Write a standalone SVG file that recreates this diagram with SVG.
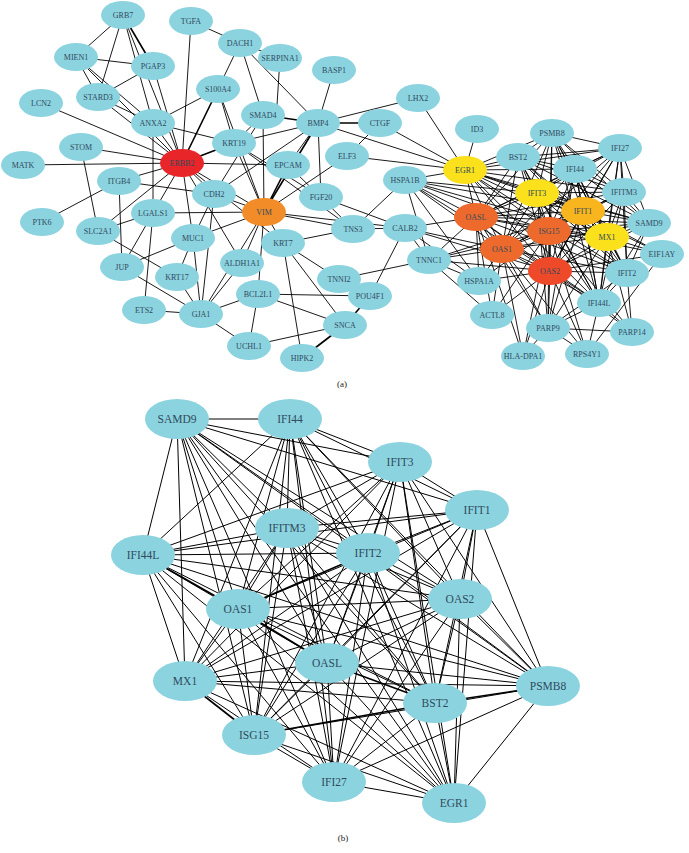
<svg xmlns="http://www.w3.org/2000/svg" width="689" height="853" viewBox="0 0 689 853">
<style>
.bg{fill:#ffffff}
.ea line{stroke:#000;stroke-width:0.9}
.eb line{stroke:#000;stroke-width:1}
.ea line.t,.eb line.t{stroke-width:1.6}
.n ellipse{fill:#8CD3E0}
.red ellipse{fill:#E8262A}
.ora ellipse{fill:#F28C28}
.ore ellipse{fill:#EE6A2C}
.orr ellipse{fill:#EE4A2A}
.yel ellipse{fill:#FBE01C}
.yor ellipse{fill:#F9B51E}
text{font-family:"Liberation Serif","Times New Roman",serif;fill:#2F4B5C;text-anchor:middle;dominant-baseline:central}
.a text{font-size:8px}
.b text{font-size:11.5px}
.cap{font-size:9px;fill:#222}
</style>
<rect class="bg" x="0" y="0" width="689" height="853"/>
<g id="connectors-a" class="ea">
<line x1="123" y1="15" x2="76" y2="57"/>
<line x1="123" y1="15" x2="98" y2="97"/>
<line x1="123" y1="15" x2="153" y2="66" class="t"/>
<line x1="123" y1="15" x2="182" y2="163"/>
<line x1="123" y1="15" x2="153" y2="123"/>
<line x1="76" y1="57" x2="153" y2="66"/>
<line x1="76" y1="57" x2="98" y2="97"/>
<line x1="76" y1="57" x2="153" y2="123"/>
<line x1="76" y1="57" x2="182" y2="163"/>
<line x1="98" y1="97" x2="153" y2="66"/>
<line x1="98" y1="97" x2="182" y2="163"/>
<line x1="98" y1="97" x2="153" y2="123"/>
<line x1="153" y1="66" x2="182" y2="163"/>
<line x1="191" y1="21" x2="240" y2="43"/>
<line x1="191" y1="21" x2="182" y2="163"/>
<line x1="240" y1="43" x2="218" y2="89"/>
<line x1="240" y1="43" x2="263" y2="115"/>
<line x1="240" y1="43" x2="318" y2="123"/>
<line x1="240" y1="43" x2="280" y2="58"/>
<line x1="280" y1="58" x2="277" y2="105"/>
<line x1="334" y1="70" x2="318" y2="123"/>
<line x1="418" y1="98" x2="318" y2="123"/>
<line x1="418" y1="98" x2="465" y2="170"/>
<line x1="318" y1="123" x2="380" y2="123" class="t"/>
<line x1="380" y1="123" x2="465" y2="170"/>
<line x1="380" y1="123" x2="347" y2="156"/>
<line x1="318" y1="123" x2="465" y2="170"/>
<line x1="318" y1="123" x2="263" y2="115" class="t"/>
<line x1="318" y1="123" x2="234" y2="143"/>
<line x1="318" y1="123" x2="264" y2="212" class="t"/>
<line x1="318" y1="123" x2="288" y2="165"/>
<line x1="318" y1="123" x2="321" y2="197"/>
<line x1="318" y1="123" x2="214" y2="194"/>
<line x1="263" y1="115" x2="234" y2="143"/>
<line x1="263" y1="115" x2="264" y2="212"/>
<line x1="263" y1="115" x2="214" y2="194"/>
<line x1="218" y1="89" x2="153" y2="123"/>
<line x1="218" y1="89" x2="182" y2="163" class="t"/>
<line x1="218" y1="89" x2="234" y2="143"/>
<line x1="218" y1="89" x2="264" y2="212"/>
<line x1="153" y1="123" x2="234" y2="143"/>
<line x1="153" y1="123" x2="182" y2="163"/>
<line x1="153" y1="123" x2="153" y2="213"/>
<line x1="41" y1="103" x2="182" y2="163"/>
<line x1="81" y1="147" x2="182" y2="163"/>
<line x1="81" y1="147" x2="98" y2="231"/>
<line x1="23" y1="165" x2="182" y2="163"/>
<line x1="119" y1="181" x2="182" y2="163"/>
<line x1="119" y1="181" x2="42" y2="222"/>
<line x1="119" y1="181" x2="122" y2="267"/>
<line x1="119" y1="181" x2="214" y2="194"/>
<line x1="153" y1="213" x2="98" y2="231"/>
<line x1="153" y1="213" x2="182" y2="163"/>
<line x1="153" y1="213" x2="122" y2="267"/>
<line x1="153" y1="213" x2="264" y2="212"/>
<line x1="153" y1="213" x2="144" y2="310"/>
<line x1="98" y1="231" x2="182" y2="163"/>
<line x1="98" y1="231" x2="177" y2="277"/>
<line x1="193" y1="238" x2="182" y2="163"/>
<line x1="193" y1="238" x2="122" y2="267"/>
<line x1="193" y1="238" x2="264" y2="212"/>
<line x1="193" y1="238" x2="177" y2="277"/>
<line x1="193" y1="238" x2="201" y2="314"/>
<line x1="214" y1="194" x2="182" y2="163"/>
<line x1="214" y1="194" x2="264" y2="212"/>
<line x1="214" y1="194" x2="193" y2="238"/>
<line x1="214" y1="194" x2="201" y2="314"/>
<line x1="234" y1="143" x2="182" y2="163" class="t"/>
<line x1="234" y1="143" x2="264" y2="212"/>
<line x1="234" y1="143" x2="321" y2="197"/>
<line x1="234" y1="143" x2="353" y2="229"/>
<line x1="288" y1="165" x2="182" y2="163"/>
<line x1="288" y1="165" x2="264" y2="212" class="t"/>
<line x1="347" y1="156" x2="465" y2="170"/>
<line x1="347" y1="156" x2="264" y2="212"/>
<line x1="321" y1="197" x2="405" y2="228"/>
<line x1="264" y1="212" x2="353" y2="229"/>
<line x1="264" y1="212" x2="405" y2="228"/>
<line x1="264" y1="212" x2="283" y2="243"/>
<line x1="264" y1="212" x2="242" y2="263"/>
<line x1="264" y1="212" x2="182" y2="163"/>
<line x1="264" y1="212" x2="201" y2="314"/>
<line x1="264" y1="212" x2="258" y2="294"/>
<line x1="283" y1="243" x2="339" y2="279"/>
<line x1="283" y1="243" x2="353" y2="229"/>
<line x1="283" y1="243" x2="345" y2="325"/>
<line x1="283" y1="243" x2="302" y2="358"/>
<line x1="283" y1="243" x2="182" y2="163"/>
<line x1="242" y1="263" x2="182" y2="163"/>
<line x1="242" y1="263" x2="201" y2="314"/>
<line x1="353" y1="229" x2="405" y2="228"/>
<line x1="353" y1="229" x2="405" y2="180"/>
<line x1="353" y1="229" x2="288" y2="165"/>
<line x1="405" y1="180" x2="429" y2="260"/>
<line x1="405" y1="228" x2="429" y2="260"/>
<line x1="405" y1="228" x2="370" y2="296"/>
<line x1="405" y1="228" x2="476" y2="217"/>
<line x1="405" y1="228" x2="502" y2="249"/>
<line x1="405" y1="228" x2="550" y2="271"/>
<line x1="405" y1="180" x2="476" y2="217"/>
<line x1="405" y1="180" x2="502" y2="249"/>
<line x1="405" y1="180" x2="549" y2="231"/>
<line x1="405" y1="180" x2="550" y2="271"/>
<line x1="405" y1="180" x2="537" y2="193"/>
<line x1="405" y1="180" x2="607" y2="237"/>
<line x1="405" y1="180" x2="583" y2="211"/>
<line x1="405" y1="180" x2="465" y2="170"/>
<line x1="405" y1="180" x2="479" y2="281"/>
<line x1="339" y1="279" x2="429" y2="260"/>
<line x1="429" y1="260" x2="502" y2="249"/>
<line x1="429" y1="260" x2="476" y2="217"/>
<line x1="429" y1="260" x2="550" y2="271"/>
<line x1="429" y1="260" x2="479" y2="281"/>
<line x1="429" y1="260" x2="492" y2="315"/>
<line x1="429" y1="260" x2="549" y2="231"/>
<line x1="429" y1="260" x2="583" y2="211"/>
<line x1="370" y1="296" x2="345" y2="325" class="t"/>
<line x1="345" y1="325" x2="302" y2="358" class="t"/>
<line x1="345" y1="325" x2="258" y2="294"/>
<line x1="258" y1="294" x2="201" y2="314"/>
<line x1="258" y1="294" x2="249" y2="346"/>
<line x1="258" y1="294" x2="370" y2="296"/>
<line x1="249" y1="346" x2="201" y2="314"/>
<line x1="249" y1="346" x2="345" y2="325"/>
<line x1="144" y1="310" x2="201" y2="314"/>
<line x1="122" y1="267" x2="201" y2="314"/>
<line x1="177" y1="277" x2="201" y2="314"/>
<line x1="477" y1="129" x2="465" y2="170"/>
<line x1="465" y1="170" x2="518" y2="157"/>
<line x1="465" y1="170" x2="552" y2="133"/>
<line x1="465" y1="170" x2="620" y2="148"/>
<line x1="465" y1="170" x2="575" y2="169"/>
<line x1="465" y1="170" x2="537" y2="193"/>
<line x1="465" y1="170" x2="624" y2="192"/>
<line x1="465" y1="170" x2="583" y2="211"/>
<line x1="465" y1="170" x2="649" y2="223"/>
<line x1="465" y1="170" x2="607" y2="237"/>
<line x1="465" y1="170" x2="549" y2="231"/>
<line x1="465" y1="170" x2="476" y2="217"/>
<line x1="465" y1="170" x2="502" y2="249"/>
<line x1="465" y1="170" x2="550" y2="271"/>
<line x1="465" y1="170" x2="627" y2="273"/>
<line x1="465" y1="170" x2="599" y2="303"/>
<line x1="518" y1="157" x2="552" y2="133"/>
<line x1="518" y1="157" x2="620" y2="148"/>
<line x1="518" y1="157" x2="575" y2="169"/>
<line x1="518" y1="157" x2="537" y2="193"/>
<line x1="518" y1="157" x2="624" y2="192"/>
<line x1="518" y1="157" x2="583" y2="211"/>
<line x1="518" y1="157" x2="649" y2="223"/>
<line x1="518" y1="157" x2="607" y2="237"/>
<line x1="518" y1="157" x2="549" y2="231"/>
<line x1="518" y1="157" x2="476" y2="217"/>
<line x1="518" y1="157" x2="502" y2="249"/>
<line x1="518" y1="157" x2="550" y2="271"/>
<line x1="518" y1="157" x2="627" y2="273"/>
<line x1="518" y1="157" x2="599" y2="303"/>
<line x1="552" y1="133" x2="620" y2="148"/>
<line x1="552" y1="133" x2="575" y2="169"/>
<line x1="552" y1="133" x2="537" y2="193"/>
<line x1="552" y1="133" x2="624" y2="192"/>
<line x1="552" y1="133" x2="583" y2="211"/>
<line x1="552" y1="133" x2="649" y2="223"/>
<line x1="552" y1="133" x2="607" y2="237"/>
<line x1="552" y1="133" x2="549" y2="231"/>
<line x1="552" y1="133" x2="476" y2="217"/>
<line x1="552" y1="133" x2="502" y2="249"/>
<line x1="552" y1="133" x2="550" y2="271"/>
<line x1="552" y1="133" x2="627" y2="273"/>
<line x1="552" y1="133" x2="599" y2="303"/>
<line x1="620" y1="148" x2="575" y2="169"/>
<line x1="620" y1="148" x2="537" y2="193"/>
<line x1="620" y1="148" x2="624" y2="192"/>
<line x1="620" y1="148" x2="583" y2="211"/>
<line x1="620" y1="148" x2="649" y2="223"/>
<line x1="620" y1="148" x2="607" y2="237"/>
<line x1="620" y1="148" x2="549" y2="231"/>
<line x1="620" y1="148" x2="476" y2="217"/>
<line x1="620" y1="148" x2="502" y2="249"/>
<line x1="620" y1="148" x2="550" y2="271"/>
<line x1="620" y1="148" x2="627" y2="273"/>
<line x1="620" y1="148" x2="599" y2="303"/>
<line x1="575" y1="169" x2="537" y2="193"/>
<line x1="575" y1="169" x2="624" y2="192"/>
<line x1="575" y1="169" x2="583" y2="211"/>
<line x1="575" y1="169" x2="649" y2="223"/>
<line x1="575" y1="169" x2="607" y2="237"/>
<line x1="575" y1="169" x2="549" y2="231"/>
<line x1="575" y1="169" x2="476" y2="217"/>
<line x1="575" y1="169" x2="502" y2="249"/>
<line x1="575" y1="169" x2="550" y2="271"/>
<line x1="575" y1="169" x2="627" y2="273"/>
<line x1="575" y1="169" x2="599" y2="303"/>
<line x1="537" y1="193" x2="624" y2="192"/>
<line x1="537" y1="193" x2="583" y2="211"/>
<line x1="537" y1="193" x2="649" y2="223"/>
<line x1="537" y1="193" x2="607" y2="237"/>
<line x1="537" y1="193" x2="549" y2="231"/>
<line x1="537" y1="193" x2="476" y2="217"/>
<line x1="537" y1="193" x2="502" y2="249"/>
<line x1="537" y1="193" x2="550" y2="271"/>
<line x1="537" y1="193" x2="627" y2="273"/>
<line x1="537" y1="193" x2="599" y2="303"/>
<line x1="624" y1="192" x2="583" y2="211"/>
<line x1="624" y1="192" x2="649" y2="223"/>
<line x1="624" y1="192" x2="607" y2="237"/>
<line x1="624" y1="192" x2="549" y2="231"/>
<line x1="624" y1="192" x2="476" y2="217"/>
<line x1="624" y1="192" x2="502" y2="249"/>
<line x1="624" y1="192" x2="550" y2="271"/>
<line x1="624" y1="192" x2="627" y2="273"/>
<line x1="624" y1="192" x2="599" y2="303"/>
<line x1="583" y1="211" x2="649" y2="223"/>
<line x1="583" y1="211" x2="607" y2="237"/>
<line x1="583" y1="211" x2="549" y2="231"/>
<line x1="583" y1="211" x2="476" y2="217"/>
<line x1="583" y1="211" x2="502" y2="249"/>
<line x1="583" y1="211" x2="550" y2="271"/>
<line x1="583" y1="211" x2="627" y2="273"/>
<line x1="583" y1="211" x2="599" y2="303"/>
<line x1="649" y1="223" x2="607" y2="237"/>
<line x1="649" y1="223" x2="549" y2="231"/>
<line x1="649" y1="223" x2="476" y2="217"/>
<line x1="649" y1="223" x2="502" y2="249"/>
<line x1="649" y1="223" x2="550" y2="271"/>
<line x1="649" y1="223" x2="627" y2="273"/>
<line x1="649" y1="223" x2="599" y2="303"/>
<line x1="607" y1="237" x2="549" y2="231"/>
<line x1="607" y1="237" x2="476" y2="217"/>
<line x1="607" y1="237" x2="502" y2="249"/>
<line x1="607" y1="237" x2="550" y2="271"/>
<line x1="607" y1="237" x2="627" y2="273"/>
<line x1="607" y1="237" x2="599" y2="303"/>
<line x1="549" y1="231" x2="476" y2="217"/>
<line x1="549" y1="231" x2="502" y2="249"/>
<line x1="549" y1="231" x2="550" y2="271"/>
<line x1="549" y1="231" x2="627" y2="273"/>
<line x1="549" y1="231" x2="599" y2="303"/>
<line x1="476" y1="217" x2="502" y2="249"/>
<line x1="476" y1="217" x2="550" y2="271"/>
<line x1="476" y1="217" x2="627" y2="273"/>
<line x1="476" y1="217" x2="599" y2="303"/>
<line x1="502" y1="249" x2="550" y2="271"/>
<line x1="502" y1="249" x2="627" y2="273"/>
<line x1="502" y1="249" x2="599" y2="303"/>
<line x1="550" y1="271" x2="627" y2="273"/>
<line x1="550" y1="271" x2="599" y2="303"/>
<line x1="627" y1="273" x2="599" y2="303"/>
<line x1="662" y1="254" x2="607" y2="237"/>
<line x1="662" y1="254" x2="583" y2="211"/>
<line x1="662" y1="254" x2="549" y2="231"/>
<line x1="662" y1="254" x2="550" y2="271"/>
<line x1="662" y1="254" x2="587" y2="354"/>
<line x1="662" y1="254" x2="537" y2="193"/>
<line x1="548" y1="328" x2="550" y2="271"/>
<line x1="548" y1="328" x2="549" y2="231"/>
<line x1="548" y1="328" x2="502" y2="249"/>
<line x1="548" y1="328" x2="599" y2="303"/>
<line x1="548" y1="328" x2="632" y2="332"/>
<line x1="548" y1="328" x2="583" y2="211"/>
<line x1="548" y1="328" x2="607" y2="237"/>
<line x1="548" y1="328" x2="537" y2="193"/>
<line x1="548" y1="328" x2="476" y2="217"/>
<line x1="548" y1="328" x2="587" y2="354"/>
<line x1="548" y1="328" x2="575" y2="169"/>
<line x1="548" y1="328" x2="523" y2="356"/>
<line x1="548" y1="328" x2="627" y2="273"/>
<line x1="632" y1="332" x2="599" y2="303"/>
<line x1="632" y1="332" x2="549" y2="231"/>
<line x1="632" y1="332" x2="627" y2="273"/>
<line x1="632" y1="332" x2="550" y2="271"/>
<line x1="632" y1="332" x2="607" y2="237"/>
<line x1="587" y1="354" x2="550" y2="271"/>
<line x1="587" y1="354" x2="599" y2="303"/>
<line x1="587" y1="354" x2="502" y2="249"/>
<line x1="587" y1="354" x2="549" y2="231"/>
<line x1="523" y1="356" x2="550" y2="271"/>
<line x1="523" y1="356" x2="476" y2="217"/>
<line x1="523" y1="356" x2="502" y2="249"/>
<line x1="523" y1="356" x2="549" y2="231"/>
<line x1="492" y1="315" x2="502" y2="249"/>
<line x1="492" y1="315" x2="476" y2="217"/>
<line x1="492" y1="315" x2="550" y2="271"/>
<line x1="492" y1="315" x2="549" y2="231"/>
<line x1="479" y1="281" x2="502" y2="249"/>
<line x1="479" y1="281" x2="550" y2="271"/>
<line x1="479" y1="281" x2="476" y2="217"/>
<line x1="479" y1="281" x2="549" y2="231"/>
<line x1="479" y1="281" x2="405" y2="228"/>
</g>
<g id="connectors-b" class="eb">
<line x1="177" y1="419" x2="290" y2="419"/>
<line x1="177" y1="419" x2="400" y2="462"/>
<line x1="177" y1="419" x2="477" y2="510"/>
<line x1="177" y1="419" x2="287" y2="528"/>
<line x1="177" y1="419" x2="368" y2="553"/>
<line x1="177" y1="419" x2="143" y2="555"/>
<line x1="177" y1="419" x2="238" y2="609"/>
<line x1="177" y1="419" x2="460" y2="599"/>
<line x1="177" y1="419" x2="327" y2="663"/>
<line x1="177" y1="419" x2="185" y2="681"/>
<line x1="177" y1="419" x2="548" y2="686"/>
<line x1="177" y1="419" x2="435" y2="703"/>
<line x1="177" y1="419" x2="254" y2="735"/>
<line x1="177" y1="419" x2="334" y2="782"/>
<line x1="177" y1="419" x2="454" y2="803"/>
<line x1="290" y1="419" x2="400" y2="462"/>
<line x1="290" y1="419" x2="477" y2="510"/>
<line x1="290" y1="419" x2="287" y2="528"/>
<line x1="290" y1="419" x2="368" y2="553"/>
<line x1="290" y1="419" x2="143" y2="555"/>
<line x1="290" y1="419" x2="238" y2="609"/>
<line x1="290" y1="419" x2="460" y2="599"/>
<line x1="290" y1="419" x2="327" y2="663"/>
<line x1="290" y1="419" x2="185" y2="681"/>
<line x1="290" y1="419" x2="548" y2="686"/>
<line x1="290" y1="419" x2="435" y2="703"/>
<line x1="290" y1="419" x2="254" y2="735"/>
<line x1="290" y1="419" x2="334" y2="782"/>
<line x1="290" y1="419" x2="454" y2="803"/>
<line x1="400" y1="462" x2="477" y2="510"/>
<line x1="400" y1="462" x2="287" y2="528"/>
<line x1="400" y1="462" x2="368" y2="553"/>
<line x1="400" y1="462" x2="143" y2="555"/>
<line x1="400" y1="462" x2="238" y2="609"/>
<line x1="400" y1="462" x2="460" y2="599"/>
<line x1="400" y1="462" x2="327" y2="663"/>
<line x1="400" y1="462" x2="185" y2="681"/>
<line x1="400" y1="462" x2="548" y2="686"/>
<line x1="400" y1="462" x2="435" y2="703"/>
<line x1="400" y1="462" x2="254" y2="735"/>
<line x1="400" y1="462" x2="334" y2="782"/>
<line x1="400" y1="462" x2="454" y2="803"/>
<line x1="477" y1="510" x2="287" y2="528"/>
<line x1="477" y1="510" x2="368" y2="553"/>
<line x1="477" y1="510" x2="143" y2="555"/>
<line x1="477" y1="510" x2="238" y2="609"/>
<line x1="477" y1="510" x2="460" y2="599"/>
<line x1="477" y1="510" x2="327" y2="663"/>
<line x1="477" y1="510" x2="185" y2="681"/>
<line x1="477" y1="510" x2="548" y2="686"/>
<line x1="477" y1="510" x2="435" y2="703"/>
<line x1="477" y1="510" x2="254" y2="735"/>
<line x1="477" y1="510" x2="334" y2="782"/>
<line x1="477" y1="510" x2="454" y2="803"/>
<line x1="287" y1="528" x2="368" y2="553"/>
<line x1="287" y1="528" x2="143" y2="555"/>
<line x1="287" y1="528" x2="238" y2="609"/>
<line x1="287" y1="528" x2="460" y2="599"/>
<line x1="287" y1="528" x2="327" y2="663"/>
<line x1="287" y1="528" x2="185" y2="681"/>
<line x1="287" y1="528" x2="548" y2="686"/>
<line x1="287" y1="528" x2="435" y2="703"/>
<line x1="287" y1="528" x2="254" y2="735"/>
<line x1="287" y1="528" x2="334" y2="782"/>
<line x1="287" y1="528" x2="454" y2="803"/>
<line x1="368" y1="553" x2="143" y2="555"/>
<line x1="368" y1="553" x2="238" y2="609" class="t"/>
<line x1="368" y1="553" x2="460" y2="599"/>
<line x1="368" y1="553" x2="327" y2="663"/>
<line x1="368" y1="553" x2="185" y2="681"/>
<line x1="368" y1="553" x2="548" y2="686"/>
<line x1="368" y1="553" x2="435" y2="703"/>
<line x1="368" y1="553" x2="254" y2="735"/>
<line x1="368" y1="553" x2="334" y2="782"/>
<line x1="368" y1="553" x2="454" y2="803"/>
<line x1="143" y1="555" x2="238" y2="609" class="t"/>
<line x1="143" y1="555" x2="460" y2="599"/>
<line x1="143" y1="555" x2="327" y2="663"/>
<line x1="143" y1="555" x2="185" y2="681"/>
<line x1="143" y1="555" x2="548" y2="686"/>
<line x1="143" y1="555" x2="435" y2="703"/>
<line x1="143" y1="555" x2="254" y2="735"/>
<line x1="143" y1="555" x2="334" y2="782"/>
<line x1="143" y1="555" x2="454" y2="803"/>
<line x1="238" y1="609" x2="460" y2="599"/>
<line x1="238" y1="609" x2="327" y2="663" class="t"/>
<line x1="238" y1="609" x2="185" y2="681"/>
<line x1="238" y1="609" x2="548" y2="686"/>
<line x1="238" y1="609" x2="435" y2="703"/>
<line x1="238" y1="609" x2="254" y2="735"/>
<line x1="238" y1="609" x2="334" y2="782"/>
<line x1="238" y1="609" x2="454" y2="803"/>
<line x1="460" y1="599" x2="327" y2="663"/>
<line x1="460" y1="599" x2="185" y2="681"/>
<line x1="460" y1="599" x2="548" y2="686"/>
<line x1="460" y1="599" x2="435" y2="703"/>
<line x1="460" y1="599" x2="254" y2="735"/>
<line x1="460" y1="599" x2="334" y2="782"/>
<line x1="460" y1="599" x2="454" y2="803"/>
<line x1="327" y1="663" x2="185" y2="681"/>
<line x1="327" y1="663" x2="548" y2="686"/>
<line x1="327" y1="663" x2="435" y2="703" class="t"/>
<line x1="327" y1="663" x2="254" y2="735"/>
<line x1="327" y1="663" x2="334" y2="782"/>
<line x1="327" y1="663" x2="454" y2="803"/>
<line x1="185" y1="681" x2="548" y2="686"/>
<line x1="185" y1="681" x2="435" y2="703"/>
<line x1="185" y1="681" x2="254" y2="735" class="t"/>
<line x1="185" y1="681" x2="334" y2="782"/>
<line x1="185" y1="681" x2="454" y2="803"/>
<line x1="548" y1="686" x2="435" y2="703" class="t"/>
<line x1="548" y1="686" x2="254" y2="735"/>
<line x1="548" y1="686" x2="334" y2="782"/>
<line x1="548" y1="686" x2="454" y2="803"/>
<line x1="435" y1="703" x2="254" y2="735" class="t"/>
<line x1="435" y1="703" x2="334" y2="782"/>
<line x1="435" y1="703" x2="454" y2="803"/>
<line x1="254" y1="735" x2="334" y2="782"/>
<line x1="254" y1="735" x2="454" y2="803"/>
<line x1="334" y1="782" x2="454" y2="803"/>
</g>
<g class="a">
<g id="a-GRB7" class="n"><ellipse cx="123" cy="15" rx="22" ry="14"/><text x="123" y="15">GRB7</text></g>
<g id="a-TGFA" class="n"><ellipse cx="191" cy="21" rx="22" ry="14"/><text x="191" y="21">TGFA</text></g>
<g id="a-DACH1" class="n"><ellipse cx="240" cy="43" rx="22" ry="14"/><text x="240" y="43">DACH1</text></g>
<g id="a-MIEN1" class="n"><ellipse cx="76" cy="57" rx="22" ry="14"/><text x="76" y="57">MIEN1</text></g>
<g id="a-PGAP3" class="n"><ellipse cx="153" cy="66" rx="22" ry="14"/><text x="153" y="66">PGAP3</text></g>
<g id="a-SERPINA1" class="n"><ellipse cx="280" cy="58" rx="22" ry="14"/><text x="280" y="58">SERPINA1</text></g>
<g id="a-BASP1" class="n"><ellipse cx="334" cy="70" rx="22" ry="14"/><text x="334" y="70">BASP1</text></g>
<g id="a-STARD3" class="n"><ellipse cx="98" cy="97" rx="22" ry="14"/><text x="98" y="97">STARD3</text></g>
<g id="a-S100A4" class="n"><ellipse cx="218" cy="89" rx="22" ry="14"/><text x="218" y="89">S100A4</text></g>
<g id="a-LCN2" class="n"><ellipse cx="41" cy="103" rx="22" ry="14"/><text x="41" y="103">LCN2</text></g>
<g id="a-LHX2" class="n"><ellipse cx="418" cy="98" rx="22" ry="14"/><text x="418" y="98">LHX2</text></g>
<g id="a-ANXA2" class="n"><ellipse cx="153" cy="123" rx="22" ry="14"/><text x="153" y="123">ANXA2</text></g>
<g id="a-SMAD4" class="n"><ellipse cx="263" cy="115" rx="22" ry="14"/><text x="263" y="115">SMAD4</text></g>
<g id="a-BMP4" class="n"><ellipse cx="318" cy="123" rx="22" ry="14"/><text x="318" y="123">BMP4</text></g>
<g id="a-CTGF" class="n"><ellipse cx="380" cy="123" rx="22" ry="14"/><text x="380" y="123">CTGF</text></g>
<g id="a-ID3" class="n"><ellipse cx="477" cy="129" rx="22" ry="14"/><text x="477" y="129">ID3</text></g>
<g id="a-PSMB8" class="n"><ellipse cx="552" cy="133" rx="22" ry="14"/><text x="552" y="133">PSMB8</text></g>
<g id="a-KRT19" class="n"><ellipse cx="234" cy="143" rx="22" ry="14"/><text x="234" y="143">KRT19</text></g>
<g id="a-STOM" class="n"><ellipse cx="81" cy="147" rx="22" ry="14"/><text x="81" y="147">STOM</text></g>
<g id="a-IFI27" class="n"><ellipse cx="620" cy="148" rx="22" ry="14"/><text x="620" y="148">IFI27</text></g>
<g id="a-ELF3" class="n"><ellipse cx="347" cy="156" rx="22" ry="14"/><text x="347" y="156">ELF3</text></g>
<g id="a-BST2" class="n"><ellipse cx="518" cy="157" rx="22" ry="14"/><text x="518" y="157">BST2</text></g>
<g id="a-ERBB2" class="n red"><ellipse cx="182" cy="163" rx="22" ry="14"/><text x="182" y="163">ERBB2</text></g>
<g id="a-MATK" class="n"><ellipse cx="23" cy="165" rx="22" ry="14"/><text x="23" y="165">MATK</text></g>
<g id="a-EPCAM" class="n"><ellipse cx="288" cy="165" rx="22" ry="14"/><text x="288" y="165">EPCAM</text></g>
<g id="a-EGR1" class="n yel"><ellipse cx="465" cy="170" rx="22" ry="14"/><text x="465" y="170">EGR1</text></g>
<g id="a-IFI44" class="n"><ellipse cx="575" cy="169" rx="22" ry="14"/><text x="575" y="169">IFI44</text></g>
<g id="a-ITGB4" class="n"><ellipse cx="119" cy="181" rx="22" ry="14"/><text x="119" y="181">ITGB4</text></g>
<g id="a-HSPA1B" class="n"><ellipse cx="405" cy="180" rx="22" ry="14"/><text x="405" y="180">HSPA1B</text></g>
<g id="a-IFIT3" class="n yel"><ellipse cx="537" cy="193" rx="22" ry="14"/><text x="537" y="193">IFIT3</text></g>
<g id="a-IFITM3" class="n"><ellipse cx="624" cy="192" rx="22" ry="14"/><text x="624" y="192">IFITM3</text></g>
<g id="a-CDH2" class="n"><ellipse cx="214" cy="194" rx="22" ry="14"/><text x="214" y="194">CDH2</text></g>
<g id="a-FGF20" class="n"><ellipse cx="321" cy="197" rx="22" ry="14"/><text x="321" y="197">FGF20</text></g>
<g id="a-IFIT1" class="n yor"><ellipse cx="583" cy="211" rx="22" ry="14"/><text x="583" y="211">IFIT1</text></g>
<g id="a-VIM" class="n ora"><ellipse cx="264" cy="212" rx="22" ry="14"/><text x="264" y="212">VIM</text></g>
<g id="a-LGALS1" class="n"><ellipse cx="153" cy="213" rx="22" ry="14"/><text x="153" y="213">LGALS1</text></g>
<g id="a-OASL" class="n ore"><ellipse cx="476" cy="217" rx="22" ry="14"/><text x="476" y="217">OASL</text></g>
<g id="a-PTK6" class="n"><ellipse cx="42" cy="222" rx="22" ry="14"/><text x="42" y="222">PTK6</text></g>
<g id="a-SAMD9" class="n"><ellipse cx="649" cy="223" rx="22" ry="14"/><text x="649" y="223">SAMD9</text></g>
<g id="a-TNS3" class="n"><ellipse cx="353" cy="229" rx="22" ry="14"/><text x="353" y="229">TNS3</text></g>
<g id="a-CALB2" class="n"><ellipse cx="405" cy="228" rx="22" ry="14"/><text x="405" y="228">CALB2</text></g>
<g id="a-ISG15" class="n ore"><ellipse cx="549" cy="231" rx="22" ry="14"/><text x="549" y="231">ISG15</text></g>
<g id="a-SLC2A1" class="n"><ellipse cx="98" cy="231" rx="22" ry="14"/><text x="98" y="231">SLC2A1</text></g>
<g id="a-MX1" class="n yel"><ellipse cx="607" cy="237" rx="22" ry="14"/><text x="607" y="237">MX1</text></g>
<g id="a-MUC1" class="n"><ellipse cx="193" cy="238" rx="22" ry="14"/><text x="193" y="238">MUC1</text></g>
<g id="a-KRT7" class="n"><ellipse cx="283" cy="243" rx="22" ry="14"/><text x="283" y="243">KRT7</text></g>
<g id="a-OAS1" class="n ore"><ellipse cx="502" cy="249" rx="22" ry="14"/><text x="502" y="249">OAS1</text></g>
<g id="a-EIF1AY" class="n"><ellipse cx="662" cy="254" rx="22" ry="14"/><text x="662" y="254">EIF1AY</text></g>
<g id="a-TNNC1" class="n"><ellipse cx="429" cy="260" rx="22" ry="14"/><text x="429" y="260">TNNC1</text></g>
<g id="a-ALDH1A1" class="n"><ellipse cx="242" cy="263" rx="22" ry="14"/><text x="242" y="263">ALDH1A1</text></g>
<g id="a-JUP" class="n"><ellipse cx="122" cy="267" rx="22" ry="14"/><text x="122" y="267">JUP</text></g>
<g id="a-OAS2" class="n orr"><ellipse cx="550" cy="271" rx="22" ry="14"/><text x="550" y="271">OAS2</text></g>
<g id="a-IFIT2" class="n"><ellipse cx="627" cy="273" rx="22" ry="14"/><text x="627" y="273">IFIT2</text></g>
<g id="a-KRT17" class="n"><ellipse cx="177" cy="277" rx="22" ry="14"/><text x="177" y="277">KRT17</text></g>
<g id="a-TNNI2" class="n"><ellipse cx="339" cy="279" rx="22" ry="14"/><text x="339" y="279">TNNI2</text></g>
<g id="a-HSPA1A" class="n"><ellipse cx="479" cy="281" rx="22" ry="14"/><text x="479" y="281">HSPA1A</text></g>
<g id="a-BCL2L1" class="n"><ellipse cx="258" cy="294" rx="22" ry="14"/><text x="258" y="294">BCL2L1</text></g>
<g id="a-POU4F1" class="n"><ellipse cx="370" cy="296" rx="22" ry="14"/><text x="370" y="296">POU4F1</text></g>
<g id="a-IFI44L" class="n"><ellipse cx="599" cy="303" rx="22" ry="14"/><text x="599" y="303">IFI44L</text></g>
<g id="a-ETS2" class="n"><ellipse cx="144" cy="310" rx="22" ry="14"/><text x="144" y="310">ETS2</text></g>
<g id="a-GJA1" class="n"><ellipse cx="201" cy="314" rx="22" ry="14"/><text x="201" y="314">GJA1</text></g>
<g id="a-ACTL8" class="n"><ellipse cx="492" cy="315" rx="22" ry="14"/><text x="492" y="315">ACTL8</text></g>
<g id="a-SNCA" class="n"><ellipse cx="345" cy="325" rx="22" ry="14"/><text x="345" y="325">SNCA</text></g>
<g id="a-PARP9" class="n"><ellipse cx="548" cy="328" rx="22" ry="14"/><text x="548" y="328">PARP9</text></g>
<g id="a-PARP14" class="n"><ellipse cx="632" cy="332" rx="22" ry="14"/><text x="632" y="332">PARP14</text></g>
<g id="a-UCHL1" class="n"><ellipse cx="249" cy="346" rx="22" ry="14"/><text x="249" y="346">UCHL1</text></g>
<g id="a-RPS4Y1" class="n"><ellipse cx="587" cy="354" rx="22" ry="14"/><text x="587" y="354">RPS4Y1</text></g>
<g id="a-HLA-DPA1" class="n"><ellipse cx="523" cy="356" rx="22" ry="14"/><text x="523" y="356">HLA-DPA1</text></g>
<g id="a-HIPK2" class="n"><ellipse cx="302" cy="358" rx="22" ry="14"/><text x="302" y="358">HIPK2</text></g>
</g>
<g class="b">
<g id="b-SAMD9" class="n"><ellipse cx="177" cy="419" rx="32" ry="20"/><text x="177" y="419">SAMD9</text></g>
<g id="b-IFI44" class="n"><ellipse cx="290" cy="419" rx="32" ry="20"/><text x="290" y="419">IFI44</text></g>
<g id="b-IFIT3" class="n"><ellipse cx="400" cy="462" rx="32" ry="20"/><text x="400" y="462">IFIT3</text></g>
<g id="b-IFIT1" class="n"><ellipse cx="477" cy="510" rx="32" ry="20"/><text x="477" y="510">IFIT1</text></g>
<g id="b-IFITM3" class="n"><ellipse cx="287" cy="528" rx="32" ry="20"/><text x="287" y="528">IFITM3</text></g>
<g id="b-IFIT2" class="n"><ellipse cx="368" cy="553" rx="32" ry="20"/><text x="368" y="553">IFIT2</text></g>
<g id="b-IFI44L" class="n"><ellipse cx="143" cy="555" rx="32" ry="20"/><text x="143" y="555">IFI44L</text></g>
<g id="b-OAS1" class="n"><ellipse cx="238" cy="609" rx="32" ry="20"/><text x="238" y="609">OAS1</text></g>
<g id="b-OAS2" class="n"><ellipse cx="460" cy="599" rx="32" ry="20"/><text x="460" y="599">OAS2</text></g>
<g id="b-OASL" class="n"><ellipse cx="327" cy="663" rx="32" ry="20"/><text x="327" y="663">OASL</text></g>
<g id="b-MX1" class="n"><ellipse cx="185" cy="681" rx="32" ry="20"/><text x="185" y="681">MX1</text></g>
<g id="b-PSMB8" class="n"><ellipse cx="548" cy="686" rx="32" ry="20"/><text x="548" y="686">PSMB8</text></g>
<g id="b-BST2" class="n"><ellipse cx="435" cy="703" rx="32" ry="20"/><text x="435" y="703">BST2</text></g>
<g id="b-ISG15" class="n"><ellipse cx="254" cy="735" rx="32" ry="20"/><text x="254" y="735">ISG15</text></g>
<g id="b-IFI27" class="n"><ellipse cx="334" cy="782" rx="32" ry="20"/><text x="334" y="782">IFI27</text></g>
<g id="b-EGR1" class="n"><ellipse cx="454" cy="803" rx="32" ry="20"/><text x="454" y="803">EGR1</text></g>
</g>
<text class="cap" x="342" y="384">(a)</text>
<text class="cap" x="343" y="838">(b)</text>
</svg>
